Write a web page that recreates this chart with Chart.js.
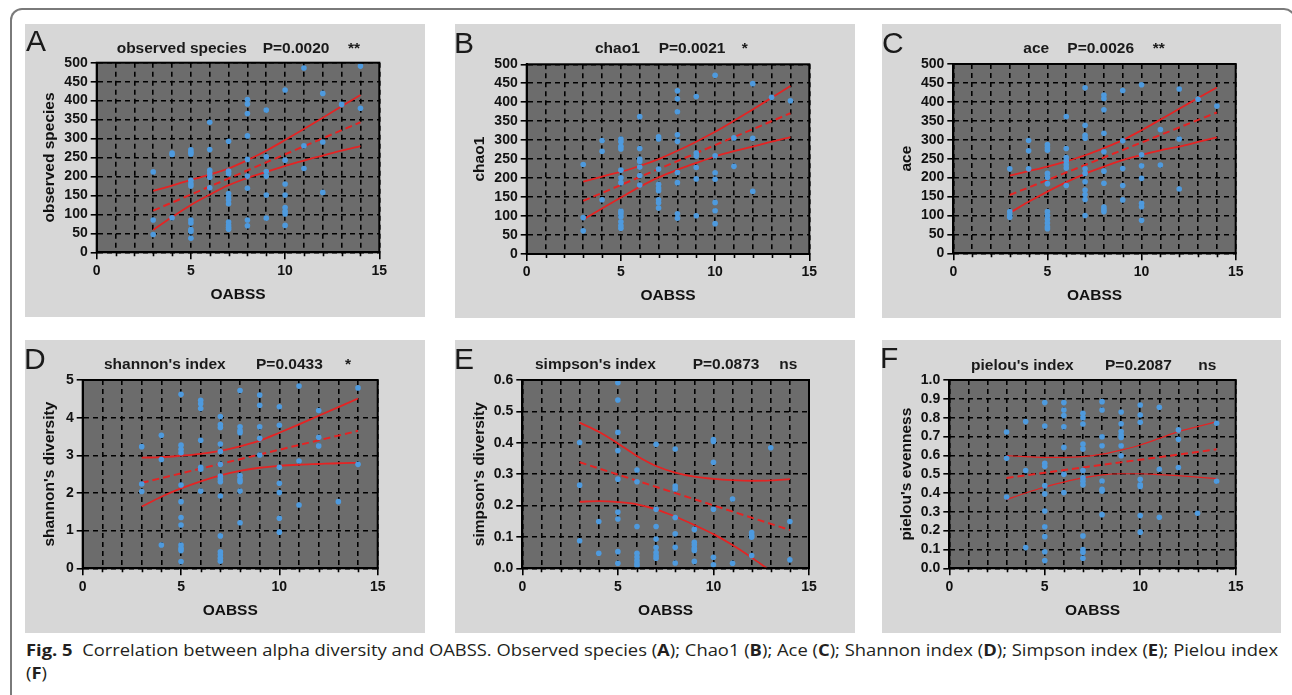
<!DOCTYPE html>
<html>
<head>
<meta charset="utf-8">
<script src="https://cdn.jsdelivr.net/npm/chart.js@4.4.1/dist/chart.umd.min.js"></script>
<style>
  body { margin: 0; width: 1292px; height: 695px; background: #fff; position: relative; overflow: hidden;
         font-family: "Liberation Sans", Arial, sans-serif; }
  .frame { position: absolute; left: 10px; top: 8px; width: 1286px; height: 720px; box-sizing: border-box;
           border: 2px solid #7a7a7a; border-bottom: none; border-radius: 12px 12px 0 0; }
  .panel { position: absolute; background: #d7d7d7; }
  .panel canvas { position: absolute; left: 0; top: 0; }
  .letter { position: absolute; font-size: 30px; line-height: 30px; color: #1a1a1a; }
  .ttl { position: absolute; font-size: 15.5px; line-height: 15px; font-weight: bold; color: #1a1a1a; white-space: pre; }
  .caption { position: absolute; left: 26px; top: 639px; font-family: "Open Sans", "Noto Sans", sans-serif;
             font-size: 16px; line-height: 23.3px; color: #231f20; white-space: nowrap; transform-origin: 0 0; }
</style>
</head>
<body>
<div class="frame"></div>

<div id="pA" class="panel"><canvas id="cA"></canvas></div>
<div id="pB" class="panel"><canvas id="cB"></canvas></div>
<div id="pC" class="panel"><canvas id="cC"></canvas></div>
<div id="pD" class="panel"><canvas id="cD"></canvas></div>
<div id="pE" class="panel"><canvas id="cE"></canvas></div>
<div id="pF" class="panel"><canvas id="cF"></canvas></div>

<div class="letter" style="left:26px;top:26px">A</div>
<div class="letter" style="left:454px;top:27.5px">B</div>
<div class="letter" style="left:882px;top:27.5px">C</div>
<div class="letter" style="left:24px;top:344px">D</div>
<div class="letter" style="left:454px;top:344px">E</div>
<div class="letter" style="left:880px;top:343px">F</div>

<div class="ttl" style="left:116.7px;top:40px">observed species</div>
<div class="ttl" style="left:262.7px;top:40px">P=0.0020</div>
<div class="ttl" style="left:348px;top:40px">**</div>
<div class="ttl" style="left:595px;top:40px">chao1</div>
<div class="ttl" style="left:658.7px;top:40px">P=0.0021</div>
<div class="ttl" style="left:741.7px;top:40px">*</div>
<div class="ttl" style="left:1023.3px;top:40px">ace</div>
<div class="ttl" style="left:1067.3px;top:40px">P=0.0026</div>
<div class="ttl" style="left:1152.7px;top:40px">**</div>
<div class="ttl" style="left:104px;top:355.6px">shannon's index</div>
<div class="ttl" style="left:256px;top:355.6px">P=0.0433</div>
<div class="ttl" style="left:345px;top:355.6px">*</div>
<div class="ttl" style="left:535px;top:355.6px">simpson's index</div>
<div class="ttl" style="left:692.7px;top:355.6px">P=0.0873</div>
<div class="ttl" style="left:779.3px;top:355.6px">ns</div>
<div class="ttl" style="left:971px;top:357.3px">pielou's index</div>
<div class="ttl" style="left:1105px;top:357.3px">P=0.2087</div>
<div class="ttl" style="left:1198.3px;top:357.3px">ns</div>

<div class="caption" id="caption"><span id="line1"><b>Fig. 5</b>&nbsp;&nbsp;Correlation between alpha diversity and OABSS. Observed species (<b>A</b>); Chao1 (<b>B</b>); Ace (<b>C</b>); Shannon index (<b>D</b>); Simpson index (<b>E</b>); Pielou index</span><br>(<b>F</b>)</div>

<script>
// OABSS 3..14, values for each score
const oabssLevels = [3, 4, 5, 6, 7, 8, 9, 10, 11, 12, 13, 14];
const fitX = [3, 14];

// A: observed species
const observedSpecies = [
  [212, 85, 47],
  [262, 258, 91],
  [270, 264, 259, 190, 181, 175, 85, 77, 60, 55, 37],
  [343, 271, 216, 207, 198, 170],
  [293, 214, 207, 155, 146, 138, 128, 80, 72, 66, 61],
  [403, 391, 366, 307, 245, 201, 169, 85, 70],
  [375, 252, 213, 201, 151, 90],
  [428, 243, 180, 151, 118, 108, 101, 71],
  [486, 281, 221],
  [419, 291, 158],
  [390],
  [491, 380]
];
const observedUpper = [162, 176, 191, 205, 221, 243, 268, 296, 325, 355, 385, 415];
const observedLower = [59, 93, 125, 152, 177, 196, 212, 228, 242, 255, 268, 280];
const observedFit = [110, 343];

// B: chao1
const chao1 = [
  [236, 96, 61],
  [299, 271, 143],
  [303, 296, 284, 277, 221, 201, 188, 113, 106, 98, 85, 75, 68],
  [362, 278, 250, 244, 229, 207, 182],
  [309, 303, 224, 184, 174, 167, 143, 135, 121],
  [430, 409, 375, 314, 297, 215, 188, 106, 94],
  [415, 266, 258, 228, 198, 101],
  [471, 259, 214, 197, 136, 114, 80],
  [306, 231],
  [449, 305, 165],
  [413],
  [404]
];
const chao1Upper = [191, 204, 217, 232, 250, 272, 296, 322, 351, 381, 412, 443];
const chao1Lower = [91, 120, 149, 177, 202, 222, 240, 257, 271, 283, 296, 308];
const chao1Fit = [140, 371];

// C: ace
const ace = [
  [223, 110, 101, 95],
  [298, 271, 223],
  [287, 279, 272, 211, 201, 184, 110, 100, 90, 80, 70, 65],
  [361, 277, 253, 244, 234, 225, 179],
  [437, 338, 312, 304, 223, 211, 189, 167, 155, 142, 100],
  [418, 409, 379, 317, 268, 217, 185, 122, 116, 110],
  [430, 297, 224, 179, 141],
  [445, 260, 231, 198, 132, 123, 87],
  [327, 233],
  [434, 302, 170],
  [407],
  [389]
];
const aceUpper = [205, 217, 229, 243, 259, 278, 299, 325, 353, 382, 410, 438];
const aceLower = [107, 136, 163, 188, 210, 229, 246, 260, 272, 282, 294, 306];
const aceFit = [154, 372];

// D: shannon's diversity
const shannon = [
  [3.23, 2.24, 2.04],
  [3.53, 2.89, 0.62],
  [4.62, 3.27, 3.16, 3.07, 2.21, 1.77, 1.35, 1.15, 0.62, 0.53, 0.47, 0.18],
  [4.46, 4.37, 4.24, 3.40, 2.68, 2.63, 2.05],
  [4.03, 3.82, 3.74, 3.30, 3.10, 2.76, 2.45, 2.37, 2.30, 1.92, 0.86, 0.44, 0.36, 0.27, 0.19],
  [4.72, 3.76, 3.66, 3.60, 2.46, 2.36, 2.30, 2.05, 1.21],
  [4.60, 4.33, 3.76, 3.45, 3.01],
  [4.29, 3.80, 2.68, 2.26, 2.01, 1.33, 0.96],
  [4.84, 2.85, 1.68],
  [4.19, 3.48, 3.25],
  [1.77],
  [4.79, 2.76]
];
const shannonUpper = [2.94, 2.95, 2.99, 3.04, 3.12, 3.24, 3.39, 3.60, 3.82, 4.05, 4.28, 4.51];
const shannonLower = [1.64, 1.90, 2.12, 2.31, 2.47, 2.59, 2.67, 2.72, 2.75, 2.77, 2.79, 2.80];
const shannonFit = [2.27, 3.65];

// E: simpson's diversity
const simpson = [
  [0.401, 0.265, 0.088],
  [0.149, 0.048],
  [0.591, 0.536, 0.433, 0.375, 0.284, 0.179, 0.157, 0.053, 0.016],
  [0.313, 0.276, 0.133, 0.048, 0.036, 0.025, 0.015, 0.008],
  [0.395, 0.188, 0.133, 0.093, 0.066, 0.050, 0.040, 0.032],
  [0.380, 0.262, 0.253, 0.162, 0.110, 0.067, 0.017],
  [0.124, 0.083, 0.074, 0.064, 0.057, 0.022],
  [0.410, 0.404, 0.338, 0.188, 0.035, 0.011],
  [0.221, 0.016],
  [0.114, 0.105, 0.099, 0.041],
  [0.384],
  [0.149, 0.027]
];
const simpsonUpper = [0.464, 0.435, 0.398, 0.358, 0.326, 0.305, 0.292, 0.285, 0.281, 0.279, 0.280, 0.284];
const simpsonLowerX = [3, 4, 5, 6, 7, 8, 9, 10, 11, 12, 12.8];
const simpsonLower = [0.212, 0.214, 0.211, 0.204, 0.188, 0.165, 0.138, 0.109, 0.074, 0.034, 0.0];
const simpsonFit = [0.338, 0.122];

// F: pielou's evenness
const pielou = [
  [0.724, 0.584, 0.379],
  [0.779, 0.519, 0.110],
  [0.880, 0.756, 0.558, 0.542, 0.439, 0.395, 0.304, 0.221, 0.168, 0.088, 0.041],
  [0.880, 0.841, 0.811, 0.752, 0.642, 0.499, 0.402],
  [0.823, 0.800, 0.766, 0.660, 0.634, 0.519, 0.480, 0.462, 0.444, 0.172, 0.100, 0.085, 0.053],
  [0.885, 0.841, 0.699, 0.651, 0.464, 0.420, 0.410, 0.285],
  [0.830, 0.768, 0.726, 0.708, 0.695, 0.651, 0.598],
  [0.867, 0.814, 0.775, 0.473, 0.444, 0.435, 0.280, 0.192],
  [0.855, 0.526, 0.271],
  [0.735, 0.685, 0.535],
  [0.292],
  [0.770, 0.462]
];
const pielouUpper = [0.598, 0.593, 0.589, 0.589, 0.593, 0.606, 0.628, 0.655, 0.690, 0.726, 0.752, 0.779];
const pielouLower = [0.365, 0.400, 0.432, 0.458, 0.480, 0.496, 0.502, 0.502, 0.498, 0.492, 0.484, 0.476];
const pielouFit = [0.480, 0.632];

const PLOT_BG = "#6c6c6c";
const DOT = "rgb(78,154,222)";
const RED = "rgb(228,36,36)";
const INK = "#111";

Chart.defaults.font.family = "'Liberation Sans', Arial, sans-serif";
Chart.defaults.animation = false;

// dark plot area, black frame and the short minor ticks on x
const plotFrame = {
  id: "plotFrame",
  beforeDraw(chart) {
    const { ctx, chartArea: a } = chart;
    ctx.save();
    ctx.fillStyle = PLOT_BG;
    ctx.fillRect(a.left, a.top, a.right - a.left, a.bottom - a.top);
    ctx.restore();
  },
  afterDraw(chart) {
    const { ctx, chartArea: a } = chart;
    const xs = chart.scales.x;
    ctx.save();
    ctx.strokeStyle = "#000";
    ctx.lineWidth = 2;
    ctx.strokeRect(a.left, a.top, a.right - a.left, a.bottom - a.top);
    ctx.lineWidth = 1.6;
    ctx.beginPath();
    for (let v = 1; v < 15; v++) {
      if (v % 5 === 0) continue;
      const px = Math.round(xs.getPixelForValue(v)) + 0.5;
      ctx.moveTo(px, a.bottom);
      ctx.lineTo(px, a.bottom + 4);
    }
    ctx.stroke();
    ctx.restore();
  }
};

function toPoints(groups) {
  const pts = [];
  groups.forEach((vals, i) => vals.forEach(v => pts.push({ x: oabssLevels[i], y: v })));
  return pts;
}
function toCurve(xs, ys) {
  return xs.map((x, i) => ({ x: x, y: ys[i] }));
}

function makePanel(p) {
  const panel = document.getElementById(p.panel);
  panel.style.left = p.left + "px";
  panel.style.top = p.top + "px";
  panel.style.width = p.width + "px";
  panel.style.height = p.height + "px";
  const canvas = document.getElementById(p.canvas);
  canvas.width = p.width;
  canvas.height = p.height;

  const lineW = p.thin ? 1.2 : 1.8;
  new Chart(canvas.getContext("2d"), {
    type: "scatter",
    data: {
      datasets: [
        { data: toPoints(p.groups), backgroundColor: DOT, borderWidth: 0, pointRadius: 2.8, pointHoverRadius: 2.8 },
        { data: toCurve(p.upperX || oabssLevels, p.upper), showLine: true, borderColor: RED, borderWidth: lineW,
          pointRadius: 0, cubicInterpolationMode: "monotone" },
        { data: toCurve(fitX, p.fit), showLine: true, borderColor: RED, borderWidth: 2, borderDash: [7, 4],
          pointRadius: 0 },
        { data: toCurve(p.lowerX || oabssLevels, p.lower), showLine: true, borderColor: RED, borderWidth: lineW,
          pointRadius: 0, cubicInterpolationMode: "monotone" }
      ]
    },
    options: {
      responsive: false,
      maintainAspectRatio: false,
      layout: { padding: { left: 0, top: p.padTop, right: p.padRight, bottom: 0 } },
      plugins: { legend: { display: false }, tooltip: { enabled: false } },
      scales: {
        x: {
          type: "linear", min: 0, max: 15,
          afterFit: s => { s.height = p.padBottom; },
          ticks: {
            stepSize: 1, autoSkip: false, maxRotation: 0, padding: 3, color: INK,
            font: { size: 14, weight: "bold" },
            callback: v => (v % 5 === 0 ? v : "")
          },
          grid: {
            color: "#000", lineWidth: 1.6, tickLength: 7,
            tickColor: c => (c.tick && c.tick.value % 5 === 0 ? "#000" : "rgba(0,0,0,0)")
          },
          border: { display: true, color: "#000", width: 2, dash: [5, 4] },
          title: { display: true, text: "OABSS", color: INK, font: { size: 15.5, weight: "bold" },
                   padding: { top: 0, bottom: 12.5 } }
        },
        y: {
          type: "linear", min: 0, max: p.yMax,
          afterFit: s => { s.width = p.padLeft; },
          ticks: {
            stepSize: p.yStep, autoSkip: false, padding: 3, color: INK,
            font: { size: 14, weight: "bold" },
            callback: v => v.toFixed(p.decimals)
          },
          grid: { color: "#000", lineWidth: 1.6, tickLength: 6 },
          border: { display: true, color: "#000", width: 2, dash: [5, 4] },
          title: { display: true, text: p.yTitle, color: INK, font: { size: 15.5, weight: "bold" },
                   padding: { top: 15, bottom: 0 } }
        }
      }
    },
    plugins: [plotFrame]
  });
}

makePanel({ panel: "pA", canvas: "cA", left: 25, top: 24, width: 400, height: 293,
  padLeft: 71.7, padTop: 38.7, padRight: 45.7, padBottom: 64.7,
  yTitle: "observed species", yMax: 500, yStep: 50, decimals: 0,
  groups: observedSpecies, upper: observedUpper, lower: observedLower, fit: observedFit });

makePanel({ panel: "pB", canvas: "cB", left: 455, top: 24, width: 400, height: 294,
  padLeft: 71.7, padTop: 40.3, padRight: 45.7, padBottom: 64,
  yTitle: "chao1", yMax: 500, yStep: 50, decimals: 0,
  groups: chao1, upper: chao1Upper, lower: chao1Lower, fit: chao1Fit });

makePanel({ panel: "pC", canvas: "cC", left: 882, top: 24, width: 399, height: 294,
  padLeft: 71.3, padTop: 40, padRight: 45.3, padBottom: 64.7,
  yTitle: "ace", yMax: 500, yStep: 50, decimals: 0,
  groups: ace, upper: aceUpper, lower: aceLower, fit: aceFit });

makePanel({ panel: "pD", canvas: "cD", left: 25, top: 340, width: 400, height: 293,
  padLeft: 57.7, padTop: 40, padRight: 47.3, padBottom: 64.7,
  yTitle: "shannon's diversity", yMax: 5, yStep: 1, decimals: 0,
  groups: shannon, upper: shannonUpper, lower: shannonLower, fit: shannonFit });

makePanel({ panel: "pE", canvas: "cE", left: 455, top: 340, width: 400, height: 293,
  padLeft: 67.3, padTop: 40, padRight: 46, padBottom: 64.7,
  yTitle: "simpson's diversity", yMax: 0.6, yStep: 0.1, decimals: 1,
  groups: simpson, upper: simpsonUpper, lower: simpsonLower, lowerX: simpsonLowerX, fit: simpsonFit });

makePanel({ panel: "pF", canvas: "cF", left: 882, top: 340, width: 399, height: 293,
  padLeft: 67.3, padTop: 40, padRight: 45.3, padBottom: 64.7, thin: true,
  yTitle: "pielou's evenness", yMax: 1.0, yStep: 0.1, decimals: 1,
  groups: pielou, upper: pielouUpper, lower: pielouLower, fit: pielouFit });

// squeeze the caption horizontally so line 1 ends where it does in the figure
const caption = document.getElementById("caption");
const natural = document.getElementById("line1").getBoundingClientRect().width;
caption.style.transform = "scaleX(" + (1252 / natural) + ")";
</script>
</body>
</html>
